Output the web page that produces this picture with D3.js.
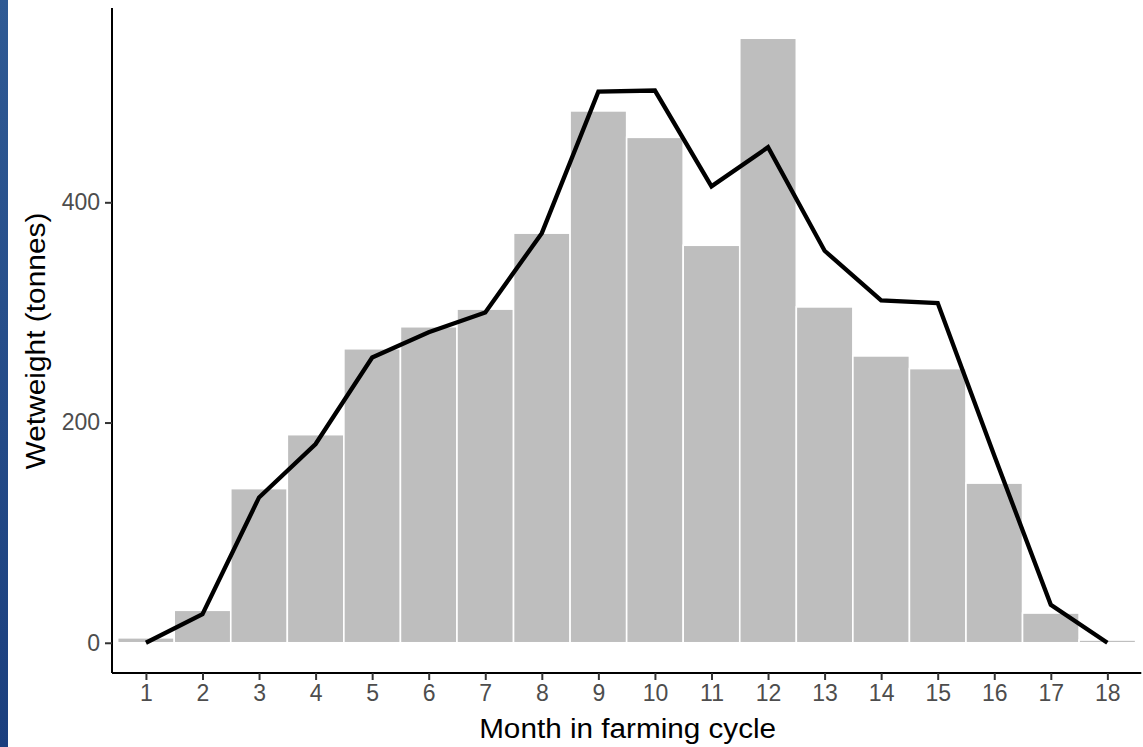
<!DOCTYPE html>
<html>
<head>
<meta charset="utf-8">
<script src="https://cdn.jsdelivr.net/npm/d3@7"></script>
<style>
  html, body { margin: 0; padding: 0; background: #ffffff; }
  svg { display: block; }
  text { font-family: "Liberation Sans", Arial, sans-serif; }
</style>
</head>
<body>
<svg id="chart" width="1143" height="747"></svg>
<script>
// ---- data ----
const months = [1, 2, 3, 4, 5, 6, 7, 8, 9, 10, 11, 12, 13, 14, 15, 16, 17, 18];
const barValues = [4.5, 29.5, 140, 189, 267, 287, 303, 372, 483, 459, 361, 549, 305, 260.5, 249, 145, 27, 2.5];
const lineValues = [0, 26, 132, 180.5, 259, 282, 300, 372, 500.5, 501.5, 414.5, 450, 356, 311, 308.5, 170, 34.5, 0];
const yTicks = [0, 200, 400];
const xTitle = "Month in farming cycle";
const yTitle = "Wetweight (tonnes)";

(function () {
const svg = d3.select("#chart");
const W = 1143, H = 747;

// decorative blue strip at the left edge
const defs = svg.append("defs");
const grad = defs.append("linearGradient").attr("id", "strip").attr("x1", 0).attr("y1", 0).attr("x2", 0).attr("y2", 1);
grad.append("stop").attr("offset", "0%").attr("stop-color", "#2f5a94");
grad.append("stop").attr("offset", "100%").attr("stop-color", "#1b3f7e");
svg.append("rect").attr("x", 0).attr("y", 0).attr("width", 8).attr("height", H).attr("fill", "url(#strip)");

const pLeft = 112, pRight = 1141.3, pTop = 8, pBottom = 673;
const maxBar = d3.max(barValues);
const x = d3.scaleLinear().domain([0.4, months.length + 0.6]).range([pLeft, pRight]);
const y = d3.scaleLinear().domain([-0.05 * maxBar, 1.05 * maxBar]).range([pBottom, pTop]);
const bw = x(1) - x(0);

// bars
svg.append("g").selectAll("rect").data(months).join("rect")
  .attr("x", d => x(d) - bw / 2)
  .attr("width", bw)
  .attr("y", (d, i) => y(barValues[i]))
  .attr("height", (d, i) => y(0) - y(barValues[i]))
  .attr("fill", "#bebebe")
  .attr("stroke", "#ffffff")
  .attr("stroke-width", 1.6);

// line
const line = d3.line().x(d => x(d[0])).y(d => y(d[1]));
svg.append("path")
  .datum(months.map((m, i) => [m, lineValues[i]]))
  .attr("d", line)
  .attr("fill", "none")
  .attr("stroke", "#000000")
  .attr("stroke-width", 4.3)
  .attr("stroke-linejoin", "miter")
  .attr("stroke-miterlimit", 10);

// axes
const xAxis = d3.axisBottom(x).tickValues(months).tickSize(7).tickPadding(5).tickFormat(d3.format("d"));
const yAxis = d3.axisLeft(y).tickValues(yTicks).tickSize(7).tickPadding(5).tickFormat(d3.format("d"));

const gx = svg.append("g").attr("transform", `translate(0,${pBottom})`).call(xAxis);
const gy = svg.append("g").attr("transform", `translate(${pLeft},0)`).call(yAxis);

[gx, gy].forEach(g => {
  g.select(".domain").attr("stroke", "#000").attr("stroke-width", 2);
  g.selectAll(".tick line").attr("stroke", "#333333").attr("stroke-width", 2);
  g.selectAll(".tick text").attr("fill", "#4d4d4d").style("font-size", "23px")
    .style("font-family", '"Liberation Sans", Arial, sans-serif');
});
gx.select(".domain").attr("d", `M${pLeft},0H${pRight}`);
gy.select(".domain").attr("d", `M0,${pTop}V${pBottom}`);

// titles
svg.append("text")
  .attr("x", (pLeft + pRight) / 2 + 1)
  .attr("y", 738)
  .attr("text-anchor", "middle")
  .attr("fill", "#000")
  .style("font-size", "27px")
  .attr("textLength", 297)
  .attr("lengthAdjust", "spacingAndGlyphs")
  .text(xTitle);

svg.append("text")
  .attr("transform", `translate(45,${(pTop + pBottom) / 2 + 0.5}) rotate(-90)`)
  .attr("text-anchor", "middle")
  .attr("fill", "#000")
  .style("font-size", "27px")
  .attr("textLength", 257)
  .attr("lengthAdjust", "spacingAndGlyphs")
  .text(yTitle);
})();
</script>
</body>
</html>
